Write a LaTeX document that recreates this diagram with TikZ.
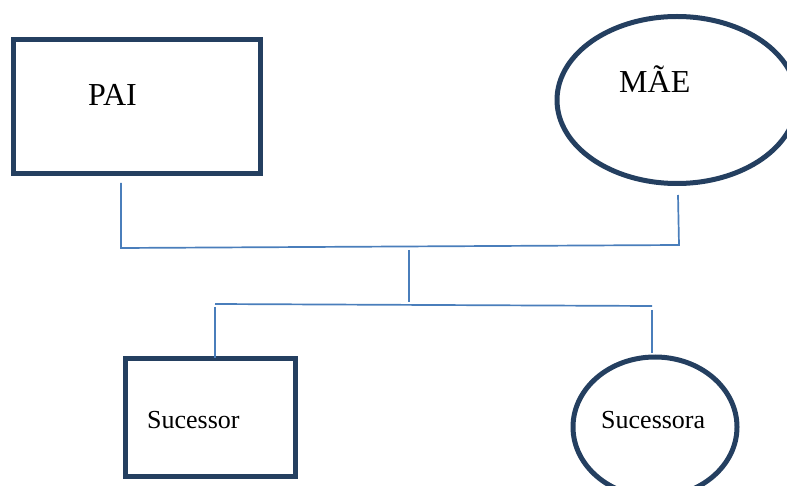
\documentclass[tikz,border=0pt]{standalone}
\usepackage{fontspec}
\setmainfont{Liberation Serif}
\usetikzlibrary{shapes.geometric}
\definecolor{navy}{HTML}{243F60}
\definecolor{lineblue}{HTML}{4A7EBB}
\begin{document}
\begin{tikzpicture}[x=1pt,y=-1pt,
  shapebox/.style={draw=navy,line width=5pt,rectangle,inner sep=0pt},
  shapeoval/.style={draw=navy,line width=5pt,ellipse,inner sep=0pt},
  conn/.style={draw=lineblue,line width=1.7pt},
  bigtext/.style={font=\fontsize{32}{38}\selectfont,inner sep=0pt,anchor=base west},
  smalltext/.style={font=\fontsize{26}{31}\selectfont,inner sep=0pt,anchor=base west}]
\useasboundingbox (0,0) rectangle (787,486);
\clip (0,0) rectangle (787,486);
% shapes
\node[shapebox,minimum width=247pt,minimum height=134pt] (pai) at (136.5,107) {};
\node[shapeoval,minimum width=240pt,minimum height=167pt] (mae) at (677,100) {};
\node[shapebox,minimum width=170pt,minimum height=118pt] (suc) at (210,417) {};
\node[shapeoval,minimum width=164pt,minimum height=140pt] (suca) at (655,427) {};
% texts
\node[bigtext] (paiT) at (88,106) {PAI};
\node[bigtext] (maeT) at (619,93) {MÃE};
\node[smalltext] (sucT) at (147,428) {Sucessor};
\node[smalltext] (sucaT) at (601,428) {Sucessora};
% connector points
\coordinate (p1) at (121,183);
\coordinate (p2) at (121,248);
\coordinate (p3) at (679,245);
\coordinate (p4) at (678,195);
\coordinate (m1) at (409,250);
\coordinate (m2) at (409,302);
\coordinate (h1) at (215,304);
\coordinate (h2) at (652,306);
\coordinate (d1) at (215,307);
\coordinate (d2) at (215,358);
\coordinate (e1) at (652,310);
\coordinate (e2) at (652,353);
\draw[conn] (p1) -- (p2) -- (p3) -- (p4);
\draw[conn] (m1) -- (m2);
\draw[conn] (h1) -- (h2);
\draw[conn] (d1) -- (d2);
\draw[conn] (e1) -- (e2);
\end{tikzpicture}
\end{document}
